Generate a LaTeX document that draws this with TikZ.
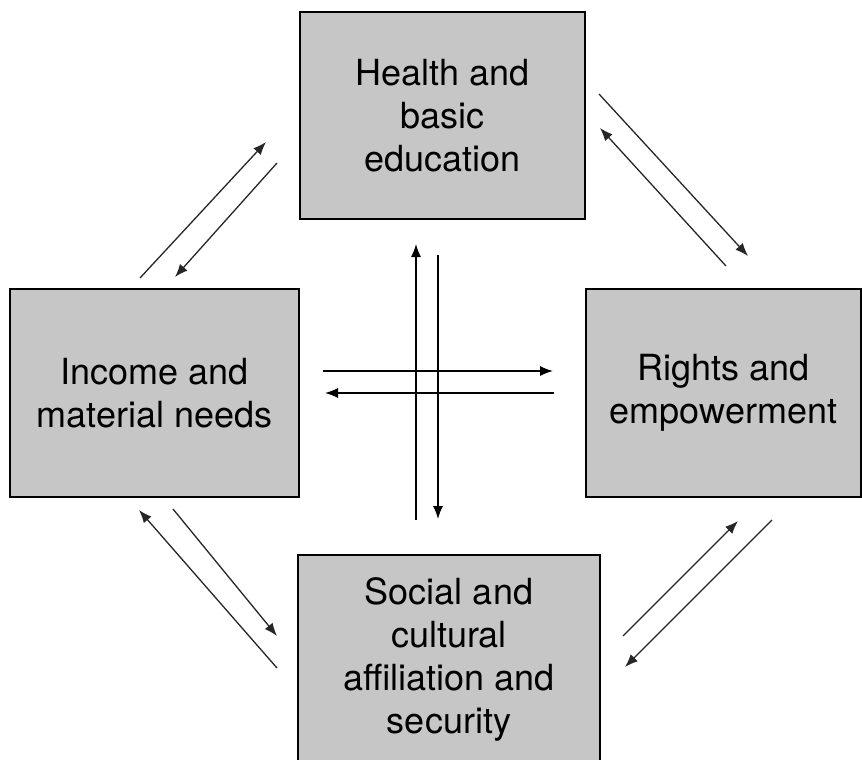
\documentclass[tikz,border=0pt]{standalone}
\usepackage{fontspec}
\setmainfont{TeX Gyre Heros}
\usepackage{xcolor}
\definecolor{box-grey}{HTML}{C6C6C6}
\usetikzlibrary{arrows.meta}

\tikzset{
    area/.style={draw=black, line width=2.8pt, fill=box-grey, align=center,
        inner sep=0pt, font=\fontsize{36}{43}\selectfont},
    link/.style={line width=1.3pt, draw=black!85, -{Latex[length=13pt, width=10pt]}}
}

\begin{document}
\begin{tikzpicture}[x=1pt, y=-1pt]

    % Page
    \useasboundingbox (0, 0) rectangle (862, 760);

    % Dimension boxes
    \node[area, minimum width=285, minimum height=207] (health) at (442.5, 115.5)
        {Health and\\basic\\education};
    \node[area, minimum width=289, minimum height=208] (income) at (154.5, 393)
        {Income and\\material needs};
    \node[area, minimum width=275, minimum height=208] (rights) at (723.5, 393)
        {Rights and\\empowerment};
    \node[area, minimum width=302, minimum height=208] (social) at (449, 659)
        {Social and\\cultural\\affiliation and\\security};

    % Arrow ends
    \coordinate (ih-a) at (140, 278);   \coordinate (ih-b) at (266, 142);
    \coordinate (hi-a) at (277, 163);   \coordinate (hi-b) at (175, 277);
    \coordinate (hr-a) at (599, 94);    \coordinate (hr-b) at (748, 256);
    \coordinate (rh-a) at (726, 266);   \coordinate (rh-b) at (600, 128);
    \coordinate (sh-a) at (416, 520);   \coordinate (sh-b) at (416, 244);
    \coordinate (hs-a) at (438, 255);   \coordinate (hs-b) at (438, 519);
    \coordinate (ir-a) at (323, 371);   \coordinate (ir-b) at (553, 371);
    \coordinate (ri-a) at (554, 393);   \coordinate (ri-b) at (325, 393);
    \coordinate (is-a) at (173, 509);   \coordinate (is-b) at (277, 636);
    \coordinate (si-a) at (277, 668);   \coordinate (si-b) at (139, 510);
    \coordinate (sr-a) at (623, 636);   \coordinate (sr-b) at (738, 521);
    \coordinate (rs-a) at (772, 520);   \coordinate (rs-b) at (625, 667);

    % Links
    \draw[link] (ih-a) -- (ih-b);
    \draw[link] (hi-a) -- (hi-b);
    \draw[link] (hr-a) -- (hr-b);
    \draw[link] (rh-a) -- (rh-b);
    \draw[link, draw=black] (sh-a) -- (sh-b);
    \draw[link, draw=black] (hs-a) -- (hs-b);
    \draw[link, draw=black] (ir-a) -- (ir-b);
    \draw[link, draw=black] (ri-a) -- (ri-b);
    \draw[link] (is-a) -- (is-b);
    \draw[link] (si-a) -- (si-b);
    \draw[link] (sr-a) -- (sr-b);
    \draw[link] (rs-a) -- (rs-b);

\end{tikzpicture}
\end{document}
